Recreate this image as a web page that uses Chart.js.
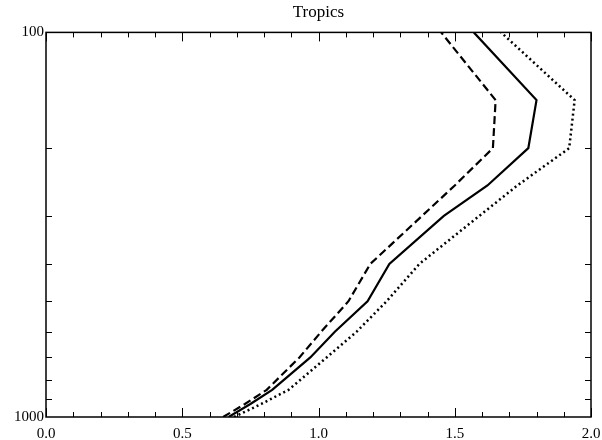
<!DOCTYPE html>
<html>
<head>
<meta charset="utf-8">
<script src="https://cdn.jsdelivr.net/npm/chart.js@4"></script>
<style>
  body { margin: 0; background: #fff; }
  canvas { display: block; }
</style>
</head>
<body>
<canvas id="myChart" width="602" height="440"></canvas>
<script>
// pressure levels (hPa) and the three profiles
const levels = [1000, 925, 850, 700, 600, 500, 400, 300, 250, 200, 150, 100];
const solidValues = [0.67, 0.75, 0.83, 0.97, 1.06, 1.18, 1.26, 1.46, 1.62, 1.77, 1.80, 1.57];
const dashedValues = [0.65, 0.73, 0.81, 0.93, 1.01, 1.11, 1.19, 1.38, 1.50, 1.64, 1.65, 1.45];
const dottedValues = [0.69, 0.79, 0.89, 1.03, 1.14, 1.25, 1.37, 1.59, 1.73, 1.92, 1.94, 1.67];

const xTicks = [0, 0.5, 1.0, 1.5, 2.0];
const xMinorTicks = [0.1, 0.2, 0.3, 0.4, 0.6, 0.7, 0.8, 0.9, 1.1, 1.2, 1.3, 1.4, 1.6, 1.7, 1.8, 1.9];
const yTicks = [100, 1000];
const yMinorTicks = [200, 300, 400, 500, 600, 700, 800, 900];

const serif = '"Liberation Serif", "Times New Roman", serif';

function toPoints(values) {
    return values.map((v, i) => ({x: v, y: levels[i]}));
}

function profile(values, dash, width) {
    return {
        data: toPoints(values),
        showLine: true,
        borderColor: '#000',
        borderWidth: width,
        borderDash: dash,
        pointRadius: 0,
        tension: 0
    };
}

// frame and inward tick marks, IDL style
const frameTicks = {
    id: 'frameTicks',
    afterDraw(chart) {
        const c = chart.ctx;
        const a = chart.chartArea;
        const xs = chart.scales.x;
        const ys = chart.scales.y;
        c.save();
        c.strokeStyle = '#000';
        c.lineWidth = 1.5;
        c.strokeRect(a.left, a.top, a.right - a.left, a.bottom - a.top);
        c.lineWidth = 1;
        c.beginPath();
        const xMarks = xTicks.map(v => [v, 9]).concat(xMinorTicks.map(v => [v, 5]));
        xMarks.forEach(([v, len]) => {
            const px = Math.round(xs.getPixelForValue(v)) + 0.5;
            c.moveTo(px, a.bottom); c.lineTo(px, a.bottom - len);
            c.moveTo(px, a.top); c.lineTo(px, a.top + len);
        });
        yMinorTicks.forEach(v => {
            const py = Math.round(ys.getPixelForValue(v)) + 0.5;
            c.moveTo(a.left, py); c.lineTo(a.left + 6, py);
            c.moveTo(a.right, py); c.lineTo(a.right - 6, py);
        });
        c.stroke();
        c.restore();
    }
};

const ctx = document.getElementById('myChart');

new Chart(ctx, {
    type: 'scatter',
    data: {
        datasets: [
            profile(solidValues, [], 2.2),
            profile(dashedValues, [8, 4], 2.2),
            profile(dottedValues, [2, 3], 2.5)
        ]
    },
    options: {
        responsive: false,
        animation: false,
        layout: {
            padding: {left: 0, right: 11, top: 0, bottom: 0}
        },
        plugins: {
            legend: {display: false},
            tooltip: {enabled: false},
            title: {
                display: true,
                text: 'Tropics',
                fullSize: false,
                color: '#000',
                font: {family: serif, size: 17, weight: 'normal', lineHeight: 1.2},
                padding: {top: 2, bottom: 10}
            }
        },
        scales: {
            x: {
                type: 'linear',
                min: 0,
                max: 2,
                grid: {display: false, drawTicks: false},
                border: {display: false},
                afterBuildTicks: (scale) => {
                    scale.ticks = xTicks.map(v => ({value: v}));
                },
                afterFit: (scale) => {
                    scale.height = 23;
                    scale.paddingLeft = 0;
                    scale.paddingRight = 0;
                },
                ticks: {
                    color: '#000',
                    padding: 8,
                    maxRotation: 0,
                    font: {family: serif, size: 15},
                    callback: (v) => Number(v).toFixed(1)
                }
            },
            y: {
                type: 'logarithmic',
                min: 100,
                max: 1000,
                reverse: true,
                grid: {display: false, drawTicks: false},
                border: {display: false},
                afterBuildTicks: (scale) => {
                    scale.ticks = yTicks.map(v => ({value: v}));
                },
                afterFit: (scale) => { scale.width = 46; },
                ticks: {
                    color: '#000',
                    padding: 2,
                    font: {family: serif, size: 15},
                    callback: (v) => String(v)
                }
            }
        }
    },
    plugins: [frameTicks]
});
</script>
</body>
</html>
